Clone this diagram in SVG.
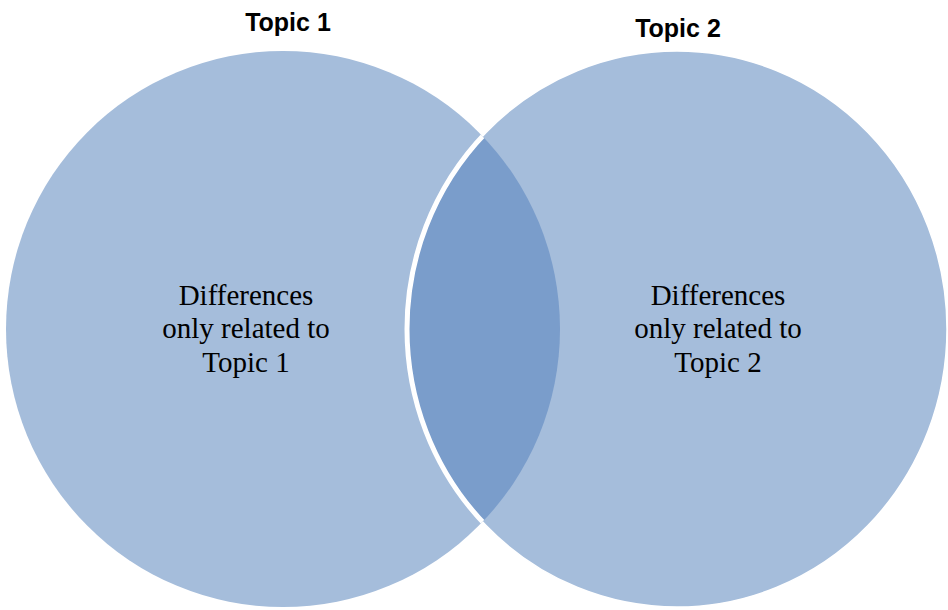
<svg xmlns="http://www.w3.org/2000/svg" width="948" height="610" viewBox="0 0 948 610">
  <style>
    .circle { fill: #A5BDDB; }
    .title { font-family: "Liberation Sans", Arial, sans-serif; font-weight: bold; font-size: 25px; fill: #000; text-anchor: middle; }
    .body { font-family: "Liberation Serif", "Times New Roman", serif; font-size: 29px; fill: #000; text-anchor: middle; }
  </style>
  <defs>
    <clipPath id="clipLeft">
      <ellipse cx="283" cy="329" rx="277" ry="278"/>
    </clipPath>
  </defs>
  <rect width="948" height="610" fill="#FFFFFF"/>
  <g id="topic1">
    <ellipse class="circle" cx="283" cy="329" rx="277" ry="278"/>
    <text class="title" x="288" y="31">Topic 1</text>
  </g>
  <g id="topic2">
    <ellipse class="circle" cx="677" cy="329" rx="270" ry="278" stroke="#FFFFFF" stroke-width="1.5"/>
    <text class="title" x="678" y="37">Topic 2</text>
  </g>
  <g id="overlap">
    <ellipse cx="677" cy="329" rx="270" ry="278" fill="#7A9DCB" stroke="#FFFFFF" stroke-width="5" clip-path="url(#clipLeft)"/>
  </g>
  <g id="label1">
    <text class="body" x="246" y="305">Differences</text>
    <text class="body" x="246" y="338">only related to</text>
    <text class="body" x="246" y="372">Topic 1</text>
  </g>
  <g id="label2">
    <text class="body" x="718" y="305">Differences</text>
    <text class="body" x="718" y="338">only related to</text>
    <text class="body" x="718" y="372">Topic 2</text>
  </g>
  <g id="connectors"/>
</svg>
